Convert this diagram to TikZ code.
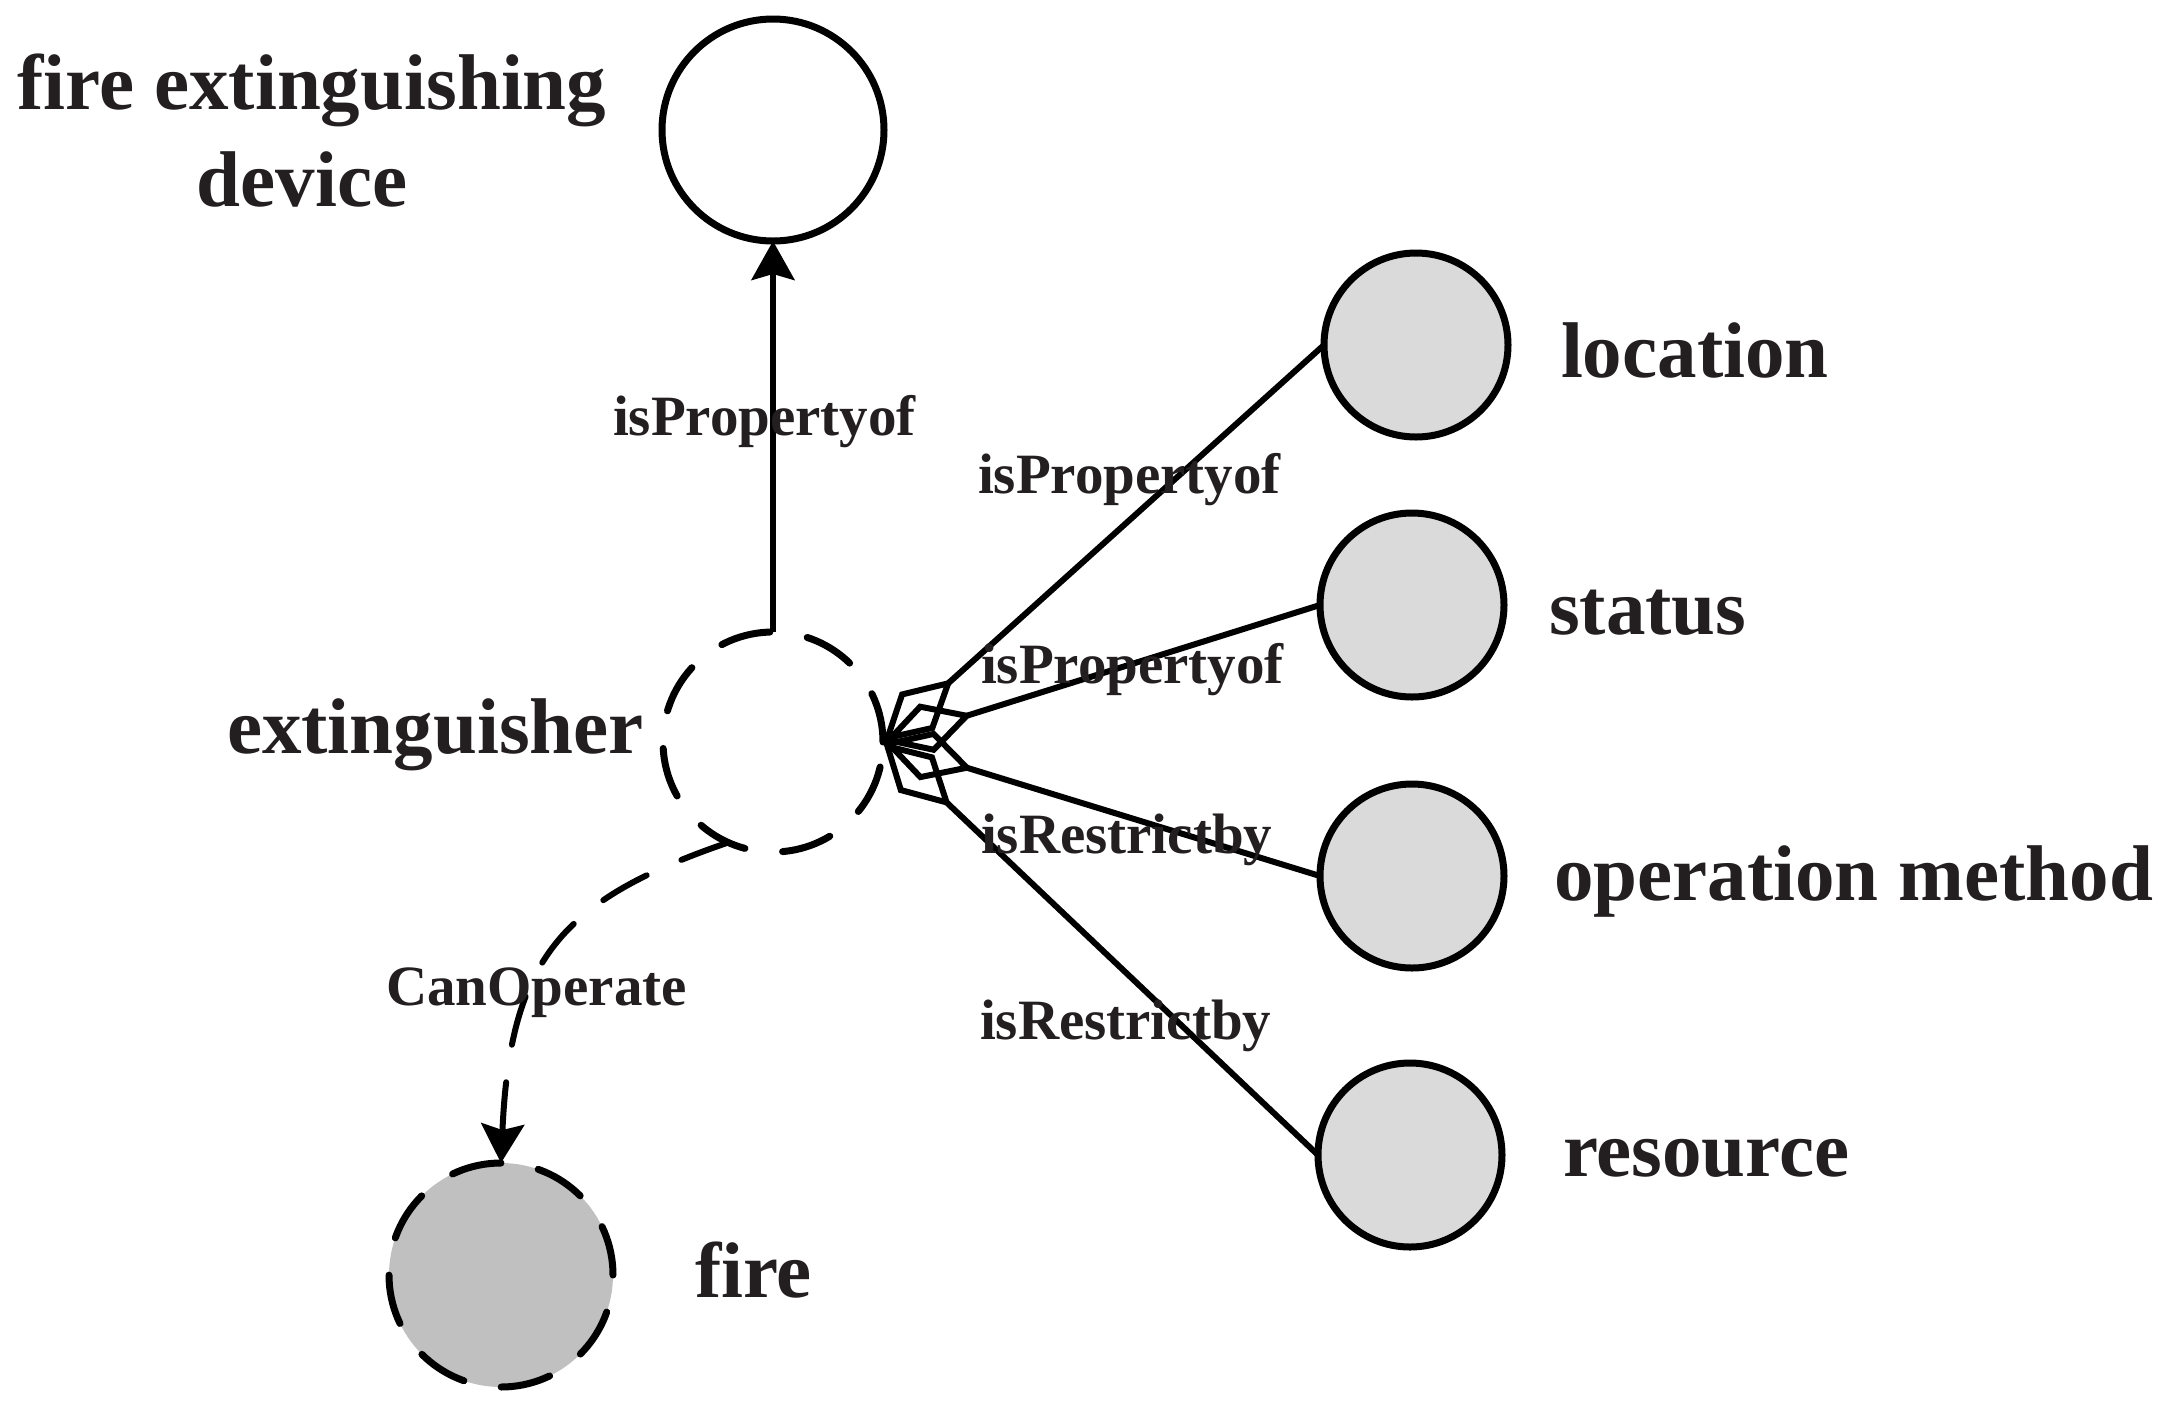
\documentclass[tikz,border=0pt]{standalone}
\usepackage{fontspec}
\setmainfont{Liberation Serif}
\usetikzlibrary{arrows.meta}
\definecolor{ink}{HTML}{231F20}
\definecolor{lightfill}{HTML}{DADADA}
\definecolor{firefill}{HTML}{C0C0C0}
\begin{document}
\begin{tikzpicture}[x=0.5pt,y=-0.5pt,
  concept/.style={circle,draw=black,line width=3.5pt,inner sep=0pt,outer sep=0pt},
  dashcircle/.style={concept,dash pattern=on 25pt off 19pt,line cap=round},
  prop/.style={concept,fill=lightfill,minimum size=92pt},
  biglabel/.style={font=\bfseries\fontsize{39.5}{48.5}\selectfont,text=ink,inner sep=0pt,outer sep=0pt},
  edgelabel/.style={font=\bfseries\fontsize{28.5}{34}\selectfont,text=ink,inner sep=0pt,outer sep=0pt},
  conn/.style={line width=3pt,draw=black},
  kitearrow/.style={conn,-{Kite[open,length=47pt,width=26pt,inset=24pt]}},
  stealtharrow/.style={conn,-{Stealth[length=19.5pt,width=21.5pt,inset=3pt]}},
]
\useasboundingbox (0,0) rectangle (2175,1404);
% nodes
\node[concept,minimum size=111pt] (dev) at (773,130) {};
\node[dashcircle,minimum size=110pt] (ext) at (773,742) {};
\node[dashcircle,fill=firefill,minimum size=112pt] (fire) at (501,1275) {};
\node[prop] (loc) at (1416,345) {};
\node[prop] (stat) at (1412,605) {};
\node[prop] (op) at (1412,876) {};
\node[prop] (res) at (1410,1155) {};
% connectors
\draw[stealtharrow] (ext.north) -- (dev.south);
\draw[kitearrow] (loc.west) -- (ext.east);
\draw[kitearrow] (stat.west) -- (ext.east);
\draw[kitearrow] (op.west) -- (ext.east);
\draw[kitearrow] (res.west) -- (ext.east);
\draw[stealtharrow,dash pattern=on 25pt off 19pt,line cap=round]
  (ext.246) .. controls (560,900) and (510,960) .. (fire.north);
% node labels
\node[biglabel,anchor=base] (devl1) at (312,109) {fire extinguishing};
\node[biglabel,anchor=base] (devl2) at (302,206) {device};
\node[biglabel,anchor=base east] (extl) at (644,753) {extinguisher};
\node[biglabel,anchor=base west] (firel) at (695,1297) {fire};
\node[biglabel,anchor=base west] (locl) at (1561,377) {location};
\node[biglabel,anchor=base west] (statl) at (1549,634) {status};
\node[biglabel,anchor=base west] (opl) at (1554,900) {operation method};
\node[biglabel,anchor=base west] (resl) at (1563,1176) {resource};
% edge labels
\node[edgelabel,anchor=base west] (e1) at (613,435) {isPropertyof};
\node[edgelabel,anchor=base west] (e2) at (978,493) {isPropertyof};
\node[edgelabel,anchor=base west] (e3) at (981,683) {isPropertyof};
\node[edgelabel,anchor=base west] (e4) at (981,853) {isRestrictby};
\node[edgelabel,anchor=base west] (e5) at (980,1039) {isRestrictby};
\node[edgelabel,anchor=base west] (e6) at (386,1005) {CanOperate};
\end{tikzpicture}
\end{document}
